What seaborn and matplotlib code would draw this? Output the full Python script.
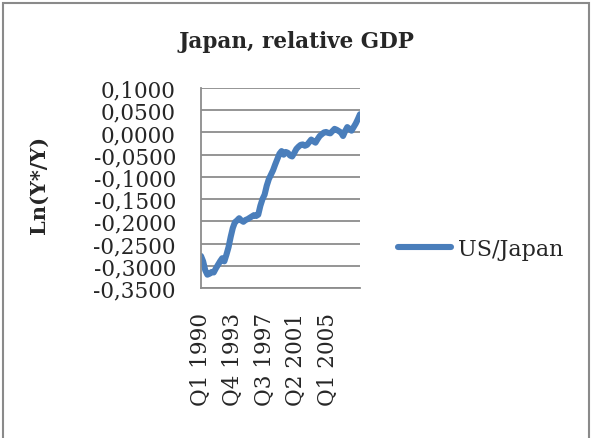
import numpy as np
import pandas as pd
import matplotlib
matplotlib.use("Agg")
import matplotlib.pyplot as plt
from matplotlib.patches import Rectangle
from matplotlib.ticker import FuncFormatter, FixedLocator
import seaborn as sns

# Quarterly log ratio of US to Japanese GDP, Q1 1990 - Q4 2008
years = list(range(1990, 2009))
quarters = [f"Q{q} {y}" for y in years for q in range(1, 5)]
us_japan = [
    -0.278, -0.290, -0.310, -0.320, -0.318, -0.314, -0.315, -0.306,
    -0.298, -0.290, -0.283, -0.290, -0.275, -0.258, -0.235, -0.215,
    -0.202, -0.198, -0.193, -0.198, -0.201, -0.197, -0.195, -0.192,
    -0.189, -0.186, -0.188, -0.185, -0.165, -0.150, -0.140, -0.120,
    -0.105, -0.095, -0.085, -0.072, -0.060, -0.048, -0.042, -0.050,
    -0.044, -0.046, -0.052, -0.054, -0.046, -0.037, -0.032, -0.028,
    -0.027, -0.030, -0.028, -0.022, -0.016, -0.020, -0.023, -0.015,
    -0.008, -0.004, 0.000, 0.001, -0.001, -0.002, 0.003, 0.008,
    0.006, 0.003, 0.000, -0.008, 0.003, 0.012, 0.008, 0.004,
    0.012, 0.020, 0.030, 0.041,
]
y_ticks = [0.10, 0.05, 0.0, -0.05, -0.10, -0.15, -0.20, -0.25, -0.30, -0.35]
x_tick_quarters = ["Q1 1990", "Q4 1993", "Q3 1997", "Q2 2001", "Q1 2005"]

df = pd.DataFrame({"idx": np.arange(len(us_japan)), "quarter": quarters,
                   "value": us_japan})

sns.set_style("white")
plt.rcParams["font.family"] = ["DejaVu Serif"]

W, H = 592, 439
fig = plt.figure(figsize=(W / 100, H / 100), dpi=100)
ax = fig.add_axes([201 / W, 1 - 289 / H, 159 / W, 200 / H])

sns.lineplot(data=df, x="idx", y="value", ax=ax, color="#4A7EBB",
             linewidth=4.4, label="US/Japan", legend=False,
             solid_capstyle="round", solid_joinstyle="round")

ax.set_xlim(0, len(us_japan) - 1)
ax.set_ylim(-0.35, 0.10)
ax.yaxis.set_major_locator(FixedLocator(y_ticks))
ax.yaxis.set_major_formatter(FuncFormatter(lambda v, p: f"{v:.4f}".replace(".", ",")))
tick_pos = [quarters.index(q) for q in x_tick_quarters]
ax.set_xticks(tick_pos)
ax.set_xticklabels(x_tick_quarters, rotation=90)

ax.grid(axis="y", color="#8C8C8C", linewidth=1.3)
ax.grid(axis="x", visible=False)
ax.set_axisbelow(True)
for side in ["top", "right"]:
    ax.spines[side].set_visible(False)
for side in ["left", "bottom"]:
    ax.spines[side].set_color("#8C8C8C")
    ax.spines[side].set_linewidth(1.3)

ax.tick_params(axis="y", length=0, pad=18, labelsize=15.5)
ax.tick_params(axis="x", length=0, pad=17, labelsize=15.5)
ax.set_xlabel("")
ax.set_ylabel("Ln(Y*/Y)", fontsize=15, fontweight="bold")
ax.yaxis.set_label_coords(-152 / 159, 0.52)

fig.text(296 / W, 1 - 42 / H, "Japan, relative GDP", ha="center", va="center",
         fontsize=15.5, fontweight="bold")

handles, labels = ax.get_legend_handles_labels()
fig.legend(handles, labels, loc="center left",
           bbox_to_anchor=(378 / W, 1 - 250 / H), frameon=False,
           fontsize=16, handlelength=2.4, handletextpad=0.3)

fig.add_artist(Rectangle((3 / W, -0.02), 586 / W, 1 - 4 / H + 0.02,
                         transform=fig.transFigure, fill=False,
                         edgecolor="#8A8A8A", linewidth=1.5))

fig.savefig("out.png", dpi=100)
